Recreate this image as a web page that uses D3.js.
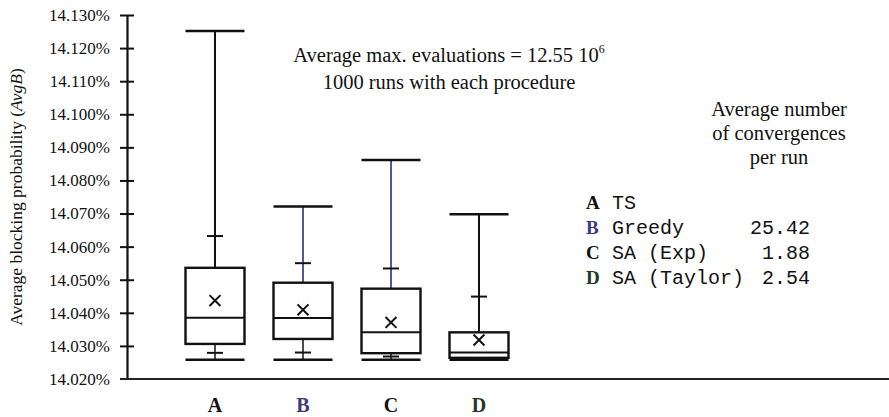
<!DOCTYPE html>
<html>
<head>
<meta charset="utf-8">
<script src="https://cdn.jsdelivr.net/npm/d3@7"></script>
<style>
  body { margin: 0; background: #fff; }
  text { font-family: "Liberation Serif", "Times New Roman", serif; fill: #111; }
  .mono { font-family: "Liberation Mono", "Courier New", monospace; }
</style>
</head>
<body>
<script>
// box plot values (percent)
var categories = ["A", "B", "C", "D"];
var whiskerMax = [14.1252, 14.0721, 14.0862, 14.0698];
var upperTick  = [14.0632, 14.0550, 14.0534, 14.0449];
var q3         = [14.0536, 14.0491, 14.0473, 14.0341];
var medians    = [14.0385, 14.0384, 14.0341, 14.0280];
var means      = [14.0437, 14.0409, 14.0371, 14.0318];
var q1         = [14.0306, 14.0321, 14.0278, 14.0264];
var lowerTick  = [14.0279, 14.0280, 14.0268, 14.0262];
var whiskerMin = [14.0258, 14.0258, 14.0258, 14.0258];
var yTicks = [14.02, 14.03, 14.04, 14.05, 14.06, 14.07, 14.08, 14.09, 14.10, 14.11, 14.12, 14.13];

var legendNames = ["TS", "Greedy", "SA (Exp)", "SA (Taylor)"];
var convergences = ["", "25.42", "1.88", "2.54"];

var width = 889, height = 417;

var svg = d3.select("body")
  .append("svg")
    .attr("width", width)
    .attr("height", height);

var y = d3.scaleLinear()
  .domain([14.02, 14.13])
  .range([379, 15]);

var x = d3.scalePoint()
  .domain(categories)
  .range([215, 479]);

var boxW = 59;

// y axis
var yAxis = svg.append("g")
  .attr("transform", "translate(127,0)")
  .call(d3.axisLeft(y)
    .tickValues(yTicks)
    .tickSizeInner(7)
    .tickSizeOuter(0)
    .tickPadding(10)
    .tickFormat(function(d) { return d3.format(".3f")(d) + "%"; }));
yAxis.select(".domain").attr("stroke", "#111").attr("stroke-width", 2.2);
yAxis.selectAll(".tick line").attr("x1", 7).attr("stroke", "#111").attr("stroke-width", 2);
yAxis.selectAll(".tick text")
  .style("font-family", "'Liberation Serif', serif")
  .style("font-size", "17px")
  .attr("fill", "#111");
yAxis.selectAll(".tick").filter(function(d) { return d === 14.02; }).select("line").remove();

// x axis line
svg.append("line")
  .attr("x1", 120).attr("x2", 889)
  .attr("y1", y(14.02)).attr("y2", y(14.02))
  .attr("stroke", "#222").attr("stroke-width", 2.2);

// x labels
var labelColors = ["#111", "#3b3b7e", "#111", "#1f3a25"];
svg.append("g").selectAll("text")
  .data(categories)
  .enter()
  .append("text")
    .attr("x", function(d) { return x(d); })
    .attr("y", 412)
    .attr("text-anchor", "middle")
    .style("font-size", "20px")
    .style("font-weight", "bold")
    .style("fill", function(d, i) { return labelColors[i]; })
    .text(function(d) { return d; });

// boxes
var whiskerColors = ["#111", "#55559a", "#55559a", "#111"];
var boxes = svg.append("g").selectAll("g")
  .data(categories)
  .enter()
  .append("g")
    .attr("transform", function(d) { return "translate(" + x(d) + ",0)"; });

boxes.append("line") // upper whisker
  .attr("x1", 0).attr("x2", 0)
  .attr("y1", function(d, i) { return y(whiskerMax[i]); })
  .attr("y2", function(d, i) { return y(q3[i]); })
  .attr("stroke", function(d, i) { return whiskerColors[i]; })
  .attr("stroke-width", 2);

boxes.append("line") // lower whisker
  .attr("x1", 0).attr("x2", 0)
  .attr("y1", function(d, i) { return y(q1[i]); })
  .attr("y2", function(d, i) { return y(whiskerMin[i]); })
  .attr("stroke", "#111")
  .attr("stroke-width", 1.5);

boxes.append("line") // top cap
  .attr("x1", -boxW / 2).attr("x2", boxW / 2)
  .attr("y1", function(d, i) { return y(whiskerMax[i]); })
  .attr("y2", function(d, i) { return y(whiskerMax[i]); })
  .attr("stroke", "#111").attr("stroke-width", 2.5);

boxes.append("line") // bottom cap
  .attr("x1", -boxW / 2).attr("x2", boxW / 2)
  .attr("y1", function(d, i) { return y(whiskerMin[i]); })
  .attr("y2", function(d, i) { return y(whiskerMin[i]); })
  .attr("stroke", "#111").attr("stroke-width", 2.5);

boxes.append("line") // upper inner tick
  .attr("x1", -8).attr("x2", 8)
  .attr("y1", function(d, i) { return y(upperTick[i]); })
  .attr("y2", function(d, i) { return y(upperTick[i]); })
  .attr("stroke", "#111").attr("stroke-width", 2);

boxes.append("line") // lower inner tick
  .attr("x1", -8).attr("x2", 8)
  .attr("y1", function(d, i) { return y(lowerTick[i]); })
  .attr("y2", function(d, i) { return y(lowerTick[i]); })
  .attr("stroke", "#111").attr("stroke-width", 2);

boxes.append("rect")
  .attr("x", -boxW / 2)
  .attr("width", boxW)
  .attr("y", function(d, i) { return y(q3[i]); })
  .attr("height", function(d, i) { return y(q1[i]) - y(q3[i]); })
  .attr("fill", "#fff")
  .attr("stroke", "#111")
  .attr("stroke-width", 2.4);

boxes.append("line") // median
  .attr("x1", -boxW / 2).attr("x2", boxW / 2)
  .attr("y1", function(d, i) { return y(medians[i]); })
  .attr("y2", function(d, i) { return y(medians[i]); })
  .attr("stroke", "#111").attr("stroke-width", 2);

boxes.append("path") // mean marker
  .attr("d", d3.symbol().type(d3.symbolX).size(80))
  .attr("transform", function(d, i) { return "translate(0," + y(means[i]) + ")"; })
  .attr("fill", "none")
  .attr("stroke", "#111")
  .attr("stroke-width", 2);

// annotation
var note = svg.append("text")
  .attr("x", 449).attr("y", 62)
  .attr("text-anchor", "middle")
  .style("font-size", "20.5px");
note.append("tspan").text("Average max. evaluations = 12.55 10");
note.append("tspan").attr("dy", -9).style("font-size", "12px").text("6");
svg.append("text")
  .attr("x", 449).attr("y", 89)
  .attr("text-anchor", "middle")
  .style("font-size", "20.5px")
  .text("1000 runs with each procedure");

// legend heading
var heading = ["Average number", "of convergences", "per run"];
svg.append("g").selectAll("text")
  .data(heading)
  .enter()
  .append("text")
    .attr("x", 779)
    .attr("y", function(d, i) { return 116 + i * 24; })
    .attr("text-anchor", "middle")
    .style("font-size", "20.5px")
    .text(function(d) { return d; });

// legend rows
var rows = svg.append("g").selectAll("g")
  .data(categories)
  .enter()
  .append("g")
    .attr("transform", function(d, i) { return "translate(0," + (209 + i * 25) + ")"; });
rows.append("text")
  .attr("x", 586)
  .style("font-size", "19px")
  .style("font-weight", "bold")
  .style("fill", function(d, i) { return labelColors[i]; })
  .text(function(d) { return d; });
rows.append("text")
  .attr("class", "mono")
  .attr("x", 612)
  .style("font-size", "20px")
  .text(function(d, i) { return legendNames[i]; });
rows.append("text")
  .attr("class", "mono")
  .attr("x", 810)
  .attr("text-anchor", "end")
  .style("font-size", "20px")
  .text(function(d, i) { return convergences[i]; });

// y label
var ylab = svg.append("text")
  .attr("transform", "translate(22,197) rotate(-90)")
  .attr("text-anchor", "middle")
  .style("font-size", "17.5px");
ylab.append("tspan").text("Average blocking probability (");
ylab.append("tspan").style("font-style", "italic").text("AvgB");
ylab.append("tspan").text(")");
</script>
</body>
</html>
